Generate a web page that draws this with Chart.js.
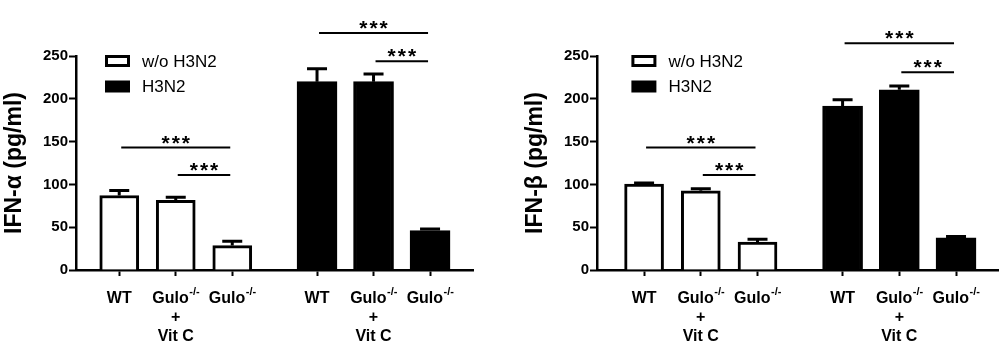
<!DOCTYPE html>
<html><head><meta charset="utf-8">
<script src="https://cdn.jsdelivr.net/npm/chart.js@4.4.1/dist/chart.umd.min.js"></script>
<style>
html,body{margin:0;padding:0;background:#fff;width:1006px;height:361px;overflow:hidden}
#c1{position:absolute;left:0;top:0}
#c2{position:absolute;left:521px;top:0}
</style>
</head><body>
<canvas id="c1" width="521" height="361"></canvas>
<canvas id="c2" width="485" height="361"></canvas>
<script>
// ---- data ----
const categoryPositions = [1, 2, 3, 4.5, 5.5, 6.5];
const labelMain = ['WT', 'Gulo', 'Gulo', 'WT', 'Gulo', 'Gulo'];
const labelSup = ['', '-/-', '-/-', '', '-/-', '-/-'];
const labelExtra = [[], ['+', 'Vit C'], [], [], ['+', 'Vit C'], []];
const seriesNames = ['w/o H3N2', 'H3N2'];
const withoutPositions = [1, 2, 3];
const h3n2Positions = [4.5, 5.5, 6.5];
const ifnAlphaWithout = [87, 81.5, 28.5];
const ifnAlphaWithoutErr = [6, 3.5, 5];
const ifnAlphaH3N2 = [220, 220, 46];
const ifnAlphaH3N2Err = [15, 9, 2];
const ifnBetaWithout = [100.5, 92.5, 32.5];
const ifnBetaWithoutErr = [1, 2.5, 3.5];
const ifnBetaH3N2 = [191.5, 210.5, 37.5];
const ifnBetaH3N2Err = [7.5, 4.5, 1.5];
const yTicks = [0, 50, 100, 150, 200, 250];
const sigFrom = [1, 2, 4.5, 5.5];
const sigTo = [3, 3, 6.5, 6.5];
const alphaSigLevel = [143, 111, 277, 244];
const betaSigLevel = [143, 111, 265, 231];
const sigLabel = '***';

const FONT = "'Liberation Sans', Arial, Helvetica, sans-serif";
Chart.defaults.font.family = FONT;
Chart.defaults.color = '#000';

const errorBars = {
  id: 'errorBars',
  afterDatasetsDraw(chart) {
    const ctx = chart.ctx, ys = chart.scales.y;
    chart.data.datasets.forEach((ds, di) => {
      const meta = chart.getDatasetMeta(di);
      meta.data.forEach((bar, i) => {
        const top = ys.getPixelForValue(ds.data[i].y + ds.errors[i]);
        ctx.save();
        ctx.strokeStyle = '#000';
        ctx.lineWidth = 3;
        ctx.beginPath();
        ctx.moveTo(bar.x, bar.y);
        ctx.lineTo(bar.x, top);
        ctx.moveTo(bar.x - 10, top);
        ctx.lineTo(bar.x + 10, top);
        ctx.stroke();
        ctx.restore();
      });
    });
  }
};

const sigPlugin = {
  id: 'sig',
  afterDraw(chart, args, opts) {
    const ctx = chart.ctx, xs = chart.scales.x, ys = chart.scales.y;
    ctx.save();
    opts.from.forEach((f, i) => {
      const x1 = xs.getPixelForValue(f) + 2;
      const x2 = xs.getPixelForValue(opts.to[i]) - 2;
      const y = ys.getPixelForValue(opts.level[i]);
      ctx.strokeStyle = '#000';
      ctx.lineWidth = 2;
      ctx.beginPath();
      ctx.moveTo(x1, y);
      ctx.lineTo(x2, y);
      ctx.stroke();
      ctx.fillStyle = '#000';
      ctx.font = 'bold 21px ' + FONT;
      ctx.letterSpacing = '2px';
      ctx.textAlign = 'center';
      ctx.textBaseline = 'alphabetic';
      ctx.fillText(opts.label, (x1 + x2) / 2 + 1, y + 2);
      ctx.letterSpacing = '0px';
    });
    ctx.restore();
  }
};

const boxLegend = {
  id: 'boxLegend',
  afterDraw(chart, args, opts) {
    const ctx = chart.ctx;
    const x0 = chart.chartArea.left + opts.dx;
    ctx.save();
    chart.data.datasets.forEach((ds, i) => {
      const cy = opts.y0 + i * opts.dy;
      if (ds.backgroundColor === '#fff') {
        ctx.strokeStyle = '#000';
        ctx.lineWidth = 3;
        ctx.strokeRect(x0 + 1.5, cy - 4.5, 22, 9);
      } else {
        ctx.fillStyle = '#000';
        ctx.fillRect(x0, cy - 6, 25, 12);
      }
      ctx.fillStyle = '#000';
      ctx.font = '17px ' + FONT;
      ctx.textAlign = 'left';
      ctx.textBaseline = 'middle';
      ctx.fillText(ds.label, x0 + 37, cy + 1);
    });
    ctx.restore();
  }
};

const xLabels = {
  id: 'xLabels',
  afterDraw(chart) {
    const ctx = chart.ctx, xs = chart.scales.x;
    const base = chart.chartArea.bottom;
    ctx.save();
    ctx.fillStyle = '#000';
    ctx.textBaseline = 'alphabetic';
    categoryPositions.forEach((v, i) => {
      const cx = xs.getPixelForValue(v);
      ctx.font = 'bold 16px ' + FONT;
      const wMain = ctx.measureText(labelMain[i]).width;
      let wSup = 0;
      if (labelSup[i]) {
        ctx.font = 'bold 11px ' + FONT;
        wSup = ctx.measureText(labelSup[i]).width;
      }
      const startX = cx - (wMain + wSup) / 2;
      ctx.font = 'bold 16px ' + FONT;
      ctx.textAlign = 'left';
      ctx.fillText(labelMain[i], startX, base + 33);
      if (labelSup[i]) {
        ctx.font = 'bold 11px ' + FONT;
        ctx.fillText(labelSup[i], startX + wMain + 0.5, base + 25);
      }
      ctx.font = 'bold 16px ' + FONT;
      ctx.textAlign = 'center';
      labelExtra[i].forEach((t, k) => {
        ctx.fillText(t, cx, base + 52 + k * 19);
      });
    });
    ctx.restore();
  }
};

function makeChart(id, yTitle, wVals, wErr, hVals, hErr, sigLevels, xMin, xMax, padRight, legendDx) {
  return new Chart(document.getElementById(id), {
    type: 'bar',
    data: {
      datasets: [
        {
          label: seriesNames[0],
          data: withoutPositions.map((x, i) => ({ x: x, y: wVals[i] })),
          errors: wErr,
          backgroundColor: '#fff',
          borderColor: '#000',
          borderWidth: 3,
          borderSkipped: 'start',
          barThickness: 39,
          grouped: false
        },
        {
          label: seriesNames[1],
          data: h3n2Positions.map((x, i) => ({ x: x, y: hVals[i] })),
          errors: hErr,
          backgroundColor: '#000',
          borderColor: '#000',
          borderWidth: 3,
          borderSkipped: 'start',
          barThickness: 40,
          grouped: false
        }
      ]
    },
    options: {
      responsive: false,
      animation: false,
      devicePixelRatio: 1,
      layout: { padding: { top: 56, right: padRight, left: 0, bottom: 0 } },
      plugins: {
        legend: { display: false },
        tooltip: { enabled: false },
        sig: { from: sigFrom, to: sigTo, level: sigLevels, label: sigLabel },
        boxLegend: { dx: legendDx, y0: 61, dy: 25.5 }
      },
      scales: {
        x: {
          type: 'linear',
          min: xMin,
          max: xMax,
          offset: false,
          grid: { display: true, drawOnChartArea: false, drawTicks: true, tickLength: 6, tickWidth: 2, tickColor: '#000', offset: false },
          border: { display: true, color: '#000', width: 2.5 },
          ticks: { display: false },
          afterBuildTicks: s => { s.ticks = categoryPositions.map(v => ({ value: v })); },
          afterFit: s => { s.height = 91; }
        },
        y: {
          min: 0,
          max: 250,
          ticks: { stepSize: 50, font: { weight: 'bold', size: 15 }, color: '#000', padding: 1 },
          afterBuildTicks: s => { s.ticks = yTicks.map(v => ({ value: v })); },
          grid: { drawOnChartArea: false, drawTicks: true, tickLength: 7, tickWidth: 2, tickColor: '#000' },
          border: { display: true, color: '#000', width: 2.5 },
          title: { display: true, text: yTitle, font: { size: 23, weight: 'bold' }, color: '#000', padding: { top: 1, bottom: 0 } },
          afterFit: s => { s.width = 76; }
        }
      }
    },
    plugins: [errorBars, sigPlugin, boxLegend, xLabels]
  });
}

makeChart('c1', 'IFN-α (pg/ml)', ifnAlphaWithout, ifnAlphaWithoutErr, ifnAlphaH3N2, ifnAlphaH3N2Err, alphaSigLevel, 0.235, 7.26, 48, 29);
makeChart('c2', 'IFN-β (pg/ml)', ifnBetaWithout, ifnBetaWithoutErr, ifnBetaH3N2, ifnBetaH3N2Err, betaSigLevel, 0.17, 7.24, 8, 34.4);
</script>
</body></html>
